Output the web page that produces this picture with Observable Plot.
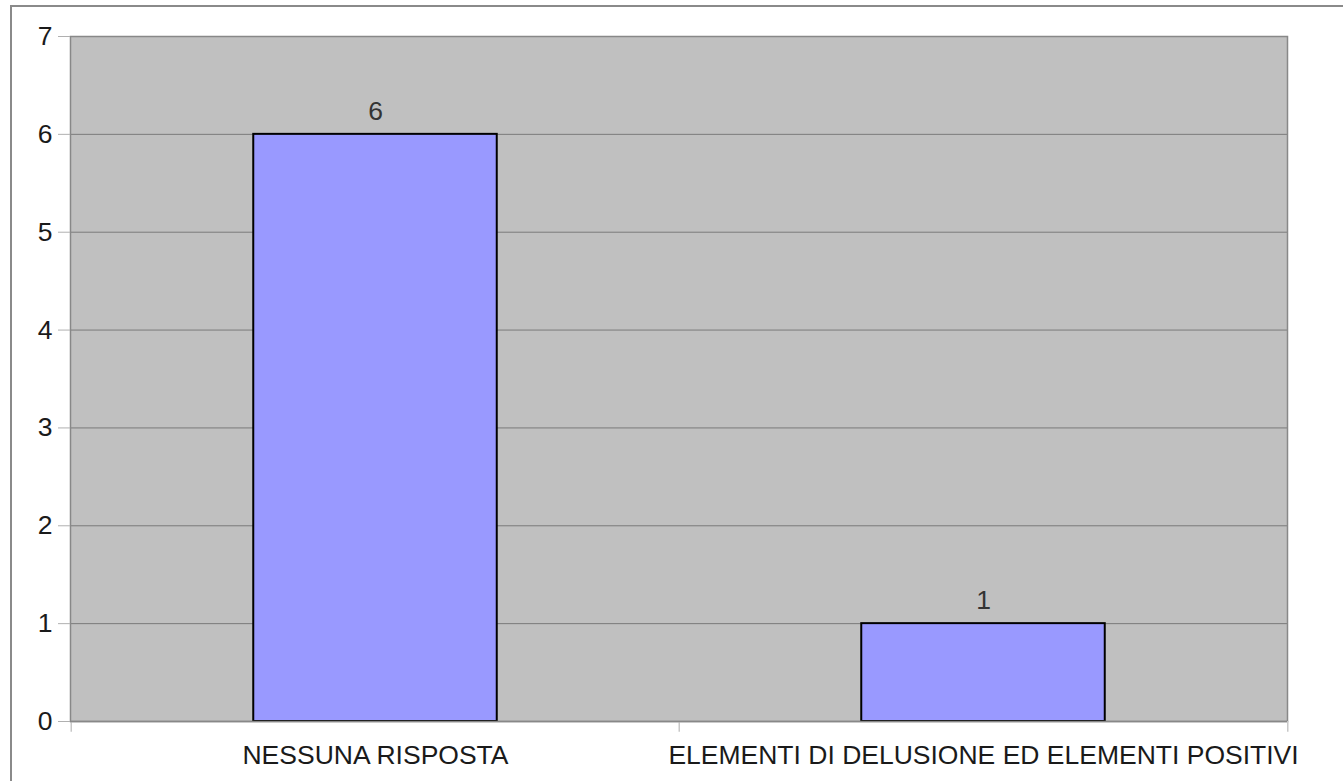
<!DOCTYPE html>
<html>
<head>
<meta charset="utf-8">
<script src="https://cdn.jsdelivr.net/npm/d3@7"></script>
<script src="https://cdn.jsdelivr.net/npm/@observablehq/plot@0.6"></script>
<style>
  html, body { margin: 0; padding: 0; background: #fff; overflow: hidden; }
  #wrap { position: relative; width: 1343px; height: 781px; }
  #border { position: absolute; left: 10px; top: 5px; width: 1400px; height: 900px; border: 2px solid #8a8a8a; box-sizing: border-box; pointer-events: none; }
  #chart { position: absolute; left: 0; top: 0; }
</style>
</head>
<body>
<div id="wrap">
  <div id="chart"></div>
  <div id="border"></div>
</div>
<script>
const categories = ["NESSUNA RISPOSTA", "ELEMENTI DI DELUSIONE ED ELEMENTI POSITIVI"];
const values = [6, 1];
const yTicks = [0, 1, 2, 3, 4, 5, 6, 7];

const data = categories.map((c, i) => ({category: c, value: values[i]}));

const W = 1343, H = 781;
const mL = 70, mR = 56, mT = 36, mB = 60;
const band = (W - mL - mR) / categories.length;
const barW = 244;
const inset = (band - barW) / 2;

const chart = Plot.plot({
  width: W,
  height: H,
  marginLeft: mL,
  marginRight: mR,
  marginTop: mT,
  marginBottom: mB,
  style: {fontFamily: "'Liberation Sans', Arial, sans-serif", fontSize: "26.5px", background: "transparent", overflow: "visible"},
  x: {domain: categories, padding: 0, label: null},
  y: {domain: [0, 7], label: null},
  marks: [
    Plot.frame({fill: "#c0c0c0", stroke: null}),
    Plot.gridY(yTicks, {stroke: "#7a7a7a", strokeOpacity: 1, strokeWidth: 1}),
    Plot.frame({stroke: "#888888", strokeWidth: 1.5}),
    Plot.axisY(yTicks, {tickSize: 12, tickPadding: 6, stroke: "#b0b0b0", fill: "#1a1a1a", fontSize: 26.5, tickFormat: "d", label: null}),
    Plot.axisX({tickSize: 0, tickPadding: 24, fill: "#1a1a1a", fontSize: 26.5, label: null}),
    // category boundary ticks below the x axis
    Plot.ruleX(categories, {x: d => d, y1: 0, y2: -0.11, dx: -band / 2, stroke: "#c8c8c8", strokeWidth: 1.5, clip: false}),
    Plot.ruleX(categories.slice(-1), {x: d => d, y1: 0, y2: -0.11, dx: band / 2, stroke: "#c8c8c8", strokeWidth: 1.5, clip: false}),
    Plot.barY(data, {x: "category", y: "value", fill: "#9999ff", stroke: "#000", strokeWidth: 2, insetLeft: inset, insetRight: inset}),
    Plot.ruleY([0], {stroke: "#888888", strokeWidth: 1.5}),
    Plot.text(data, {x: "category", y: "value", text: d => String(d.value), dy: -23, fill: "#333", fontSize: 26.5})
  ]
});
document.getElementById("chart").appendChild(chart);
</script>
</body>
</html>
